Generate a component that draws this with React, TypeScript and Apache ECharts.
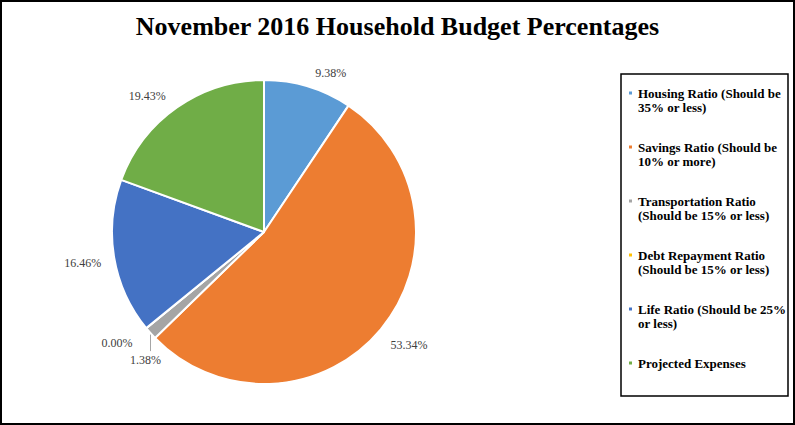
import React, { useEffect, useRef } from "react";
import * as echarts from "echarts";

// Budget shares
const categories = [
  "Housing Ratio (Should be\n35% or less)",
  "Savings Ratio (Should be\n10% or more)",
  "Transportation Ratio\n(Should be 15% or less)",
  "Debt Repayment Ratio\n(Should be 15% or less)",
  "Life Ratio (Should be 25%\nor less)",
  "Projected Expenses",
];
const percentages = [9.38, 53.34, 1.38, 0.0, 16.46, 19.43];
const colors = ["#5B9BD5", "#ED7D31", "#A5A5A5", "#FFC000", "#4472C4", "#70AD47"];

const FONT = "'Liberation Serif', 'DejaVu Serif', serif";

// small label nudges (dx, dy) so the percentages sit where Excel put them
const labelNudge: Record<number, [number, number]> = {
  1: [-4, 7],
  3: [0, 6],
  4: [4, 3],
};

// legend marker: a 5px square on top of an (almost) empty box, so the
// square lines up with the first text line instead of the block middle
const ICON_TOP = "path://M0,0h5v5h-5zM0,19h5v0.01h-5z";

const App: React.FC = () => {
  const chartRef = useRef<HTMLDivElement>(null);

  useEffect(() => {
    if (!chartRef.current) return;
    const chart = echarts.init(chartRef.current, undefined, { renderer: "svg" });

    const option = {
      animation: false,
      backgroundColor: "#fff",
      title: {
        text: "November 2016 Household Budget Percentages",
        left: "center",
        top: 8,
        textStyle: { fontFamily: FONT, fontSize: 26, fontWeight: "bold", color: "#000" },
      },
      legend: {
        orient: "vertical",
        left: 627,
        top: 86,
        padding: 0,
        itemWidth: 5,
        itemHeight: 19,
        itemGap: 26,
        icon: ICON_TOP,
        selectedMode: false,
        textStyle: {
          fontFamily: FONT,
          fontSize: 13,
          fontWeight: "bold",
          color: "#000",
          lineHeight: 14,
        },
        // single-line entries get an empty second line to keep the rhythm
        formatter: (name: string) => (name.includes("\n") ? name : name + "\n "),
        data: categories,
      },
      graphic: [
        {
          type: "rect",
          shape: { x: 1, y: 1, width: 793, height: 423 },
          style: { fill: "none", stroke: "#000", lineWidth: 2 },
          silent: true,
        },
        {
          type: "rect",
          shape: { x: 621, y: 74, width: 167, height: 322 },
          style: { fill: "none", stroke: "#000", lineWidth: 1.5 },
          silent: true,
        },
      ],
      series: [
        {
          type: "pie",
          center: [264, 232],
          radius: 152,
          startAngle: 90,
          clockwise: true,
          avoidLabelOverlap: false,
          itemStyle: { borderColor: "#fff", borderWidth: 2 },
          label: {
            show: true,
            position: "outside",
            distanceToLabelLine: 3,
            fontFamily: FONT,
            fontSize: 12,
            color: "#404040",
            formatter: (p: any) => Number(p.value).toFixed(2) + "%",
          },
          labelLine: { show: false, length: 14, length2: 0 },
          labelLayout: (params: any) => {
            if (params.dataIndex === 2 && params.labelLinePoints) {
              const [sx, sy] = params.labelLinePoints[0];
              return {
                x: sx - 5,
                y: sy + 27,
                align: "center",
                verticalAlign: "middle",
                labelLinePoints: [
                  [sx, sy],
                  [sx, sy + 18],
                ],
              };
            }
            const n = labelNudge[params.dataIndex];
            return n ? { dx: n[0], dy: n[1] } : {};
          },
          emphasis: { disabled: true },
          data: categories.map((name, i) => ({
            name,
            value: percentages[i],
            itemStyle: { color: colors[i] },
            ...(i === 2
              ? { labelLine: { show: true, length: 10, length2: 0, lineStyle: { color: "#A6A6A6", width: 1 } } }
              : {}),
          })),
        },
      ],
    };

    chart.setOption(option);
    return () => {
      chart.dispose();
    };
  }, []);

  return (
    <div
      ref={chartRef}
      style={{ position: "fixed", left: 0, top: 0, width: 795, height: 425 }}
    />
  );
};

export default App;
